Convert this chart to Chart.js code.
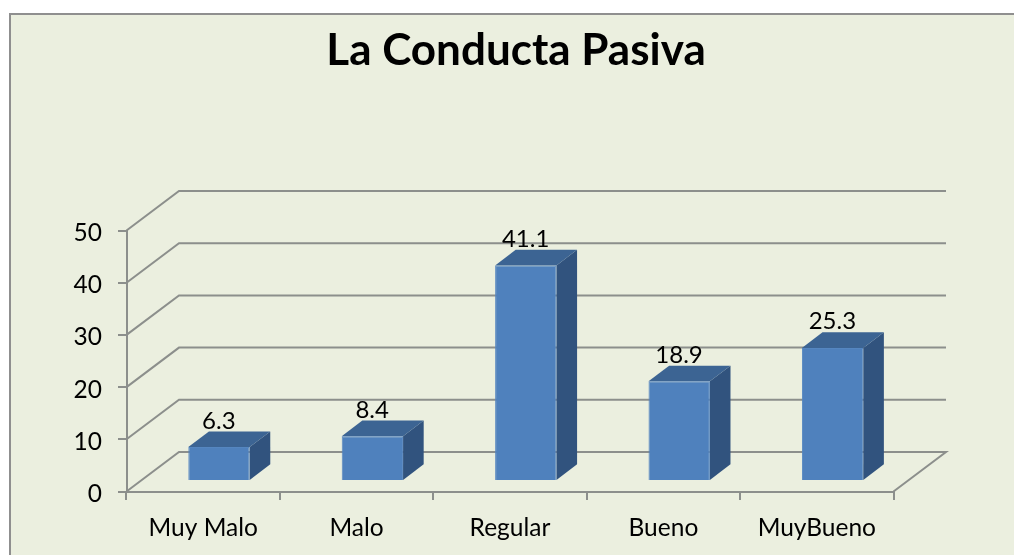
<!DOCTYPE html>
<html>
<head>
<meta charset="utf-8">
<style>html,body{margin:0;padding:0;background:#fff}canvas{display:block}</style>
<script src="https://cdn.jsdelivr.net/npm/chart.js@4"></script>
</head>
<body>
<canvas id="c" width="1014" height="555"></canvas>
<script>
const categories = ["Muy Malo", "Malo", "Regular", "Bueno", "MuyBueno"];
const values = [6.3, 8.4, 41.1, 18.9, 25.3];
const yTicks = [0, 10, 20, 30, 40, 50];
const chartTitle = "La Conducta Pasiva";

const FONT = "Lato, Carlito, sans-serif";
const GRID = "#8c8f8c";
const WALL = {dx: 52.5, dy: -39.5};
const BAR_SHIFT = {dx: 15.8, dy: -11.5};
const BAR_DEPTH = {dx: 20.6, dy: -15.7};

const scene = {
  id: "scene",
  afterLayout(chart) {
    chart.titleBlock.left += 6;
    chart.titleBlock.right += 6;
  },
  beforeDraw(chart) {
    const c = chart.ctx;
    c.save();
    c.fillStyle = "#ebefdf";
    c.fillRect(10, 14, 1004, 541);
    c.strokeStyle = "#8f8f8f";
    c.lineWidth = 2;
    c.beginPath();
    c.moveTo(10, 555); c.lineTo(10, 14); c.lineTo(1014, 14);
    c.stroke();
    c.restore();
    // nudge the y tick labels onto their ticks (font baseline difference)
    chart.scales.y.getLabelItems().forEach(item => {
      if (!item.nudged) { item.options.translation[1] += 2.6; item.nudged = true; }
    });
  },
  beforeDatasetsDraw(chart) {
    const c = chart.ctx, {left, right} = chart.chartArea, ys = chart.scales.y;
    c.save();
    c.strokeStyle = GRID;
    c.lineWidth = 2;
    yTicks.forEach(v => {
      const y = ys.getPixelForValue(v);
      c.beginPath();
      c.moveTo(left, y);
      c.lineTo(left + WALL.dx, y + WALL.dy);
      c.lineTo(right + WALL.dx, y + WALL.dy);
      if (v === 0) c.lineTo(right, y);
      c.stroke();
    });
    c.restore();
  },
  beforeDatasetDraw(chart, args) {
    const c = chart.ctx;
    c.save();
    c.translate(BAR_SHIFT.dx, BAR_SHIFT.dy);
    chart.getDatasetMeta(args.index).data.forEach(el => {
      const {x, y, base, width} = el.getProps(["x", "y", "base", "width"], true);
      const l = x - width / 2, r = x + width / 2, d = BAR_DEPTH;
      c.fillStyle = "#31537e";
      c.beginPath();
      c.moveTo(r, y); c.lineTo(r + d.dx, y + d.dy);
      c.lineTo(r + d.dx, base + d.dy); c.lineTo(r, base);
      c.closePath(); c.fill();
      c.fillStyle = "#3c6493";
      c.beginPath();
      c.moveTo(l, y); c.lineTo(l + d.dx, y + d.dy);
      c.lineTo(r + d.dx, y + d.dy); c.lineTo(r, y);
      c.closePath(); c.fill();
    });
  },
  afterDatasetDraw(chart) {
    chart.ctx.restore();
  },
  afterDatasetsDraw(chart, args) {
    const c = chart.ctx;
    c.save();
    c.fillStyle = "#000";
    c.font = "24px " + FONT;
    c.textAlign = "center";
    c.textBaseline = "middle";
    chart.getDatasetMeta(0).data.forEach((el, i) => {
      const {x, y} = el.getProps(["x", "y"], true);
      c.fillText(String(values[i]), x + BAR_SHIFT.dx - 0.2, y + BAR_SHIFT.dy + BAR_DEPTH.dy - 10.5);
    });
    c.restore();
  }
};

new Chart(document.getElementById("c"), {
  type: "bar",
  data: {
    labels: categories,
    datasets: [{
      data: values,
      backgroundColor: "#4f81bd",
      borderColor: "#5586c0",
      borderWidth: 1,
      categoryPercentage: 1,
      barPercentage: 0.4
    }]
  },
  plugins: [scene],
  options: {
    responsive: false,
    animation: false,
    layout: {padding: {left: 0, right: 120.5, top: 0, bottom: 0}},
    plugins: {
      legend: {display: false},
      tooltip: {enabled: false},
      title: {
        display: true,
        text: chartTitle,
        fullSize: false,
        color: "#000",
        font: {family: FONT, size: 44, weight: "bold"},
        padding: {top: 24.5, bottom: 153.2}
      }
    },
    scales: {
      x: {
        afterFit(s) { s.height = 63.5; },
        grid: {drawOnChartArea: false, color: GRID, tickColor: GRID, tickLength: 8.5, lineWidth: 2},
        border: {color: GRID, width: 2},
        ticks: {color: "#000", font: {family: FONT, size: 24.5}, padding: 13, maxRotation: 0}
      },
      y: {
        min: 0, max: 50,
        afterFit(s) { s.width = 126.5; },
        afterBuildTicks(s) { s.ticks = yTicks.map(v => ({value: v})); },
        grid: {drawOnChartArea: false, color: GRID, tickColor: GRID, tickLength: 8.5, lineWidth: 0, tickWidth: 2},
        border: {color: GRID, width: 2},
        ticks: {color: "#000", font: {family: FONT, size: 24.5}, padding: 16}
      }
    }
  }
});
</script>
</body>
</html>
